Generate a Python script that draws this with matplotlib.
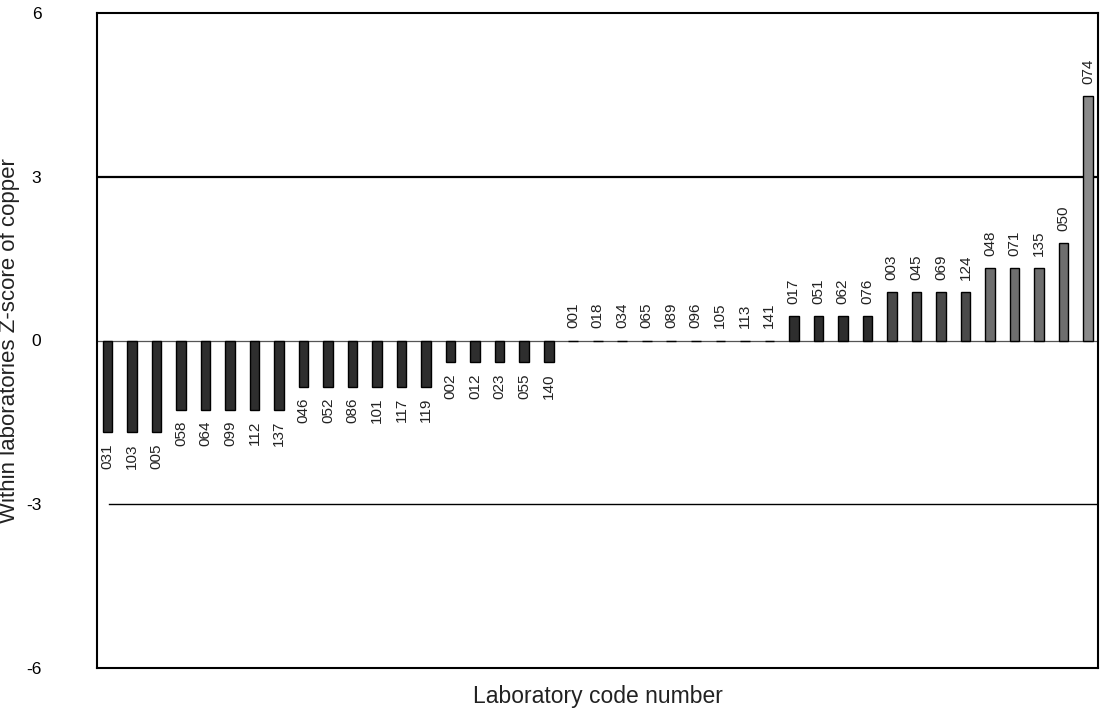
import matplotlib
matplotlib.use("Agg")
import matplotlib.pyplot as plt
import numpy as np

labs = ["031", "103", "005", "058", "064", "099", "112", "137", "046", "052",
        "086", "101", "117", "119", "002", "012", "023", "055", "140", "001",
        "018", "034", "065", "089", "096", "105", "113", "141", "017", "051",
        "062", "076", "003", "045", "069", "124", "048", "071", "135", "050",
        "074"]
zscores = [-1.68, -1.68, -1.68, -1.27, -1.27, -1.27, -1.27, -1.27, -0.85, -0.85,
           -0.85, -0.85, -0.85, -0.85, -0.40, -0.40, -0.40, -0.40, -0.40, 0.0,
           0.0, 0.0, 0.0, 0.0, 0.0, 0.0, 0.0, 0.0, 0.45, 0.45,
           0.45, 0.45, 0.88, 0.88, 0.88, 0.88, 1.32, 1.32, 1.32, 1.78,
           4.48]
yticks = [-6, -3, 0, 3, 6]

plt.rcParams['font.family'] = ['Liberation Sans', 'DejaVu Sans']

fig = plt.figure(figsize=(11.01, 7.16), dpi=100)
ax = fig.add_axes([97 / 1101, 1 - 668 / 716, (1098 - 97) / 1101, (668 - 13) / 716])

x = np.arange(len(labs))
colors = []
for v in zscores:
    if v < 0.6:
        colors.append('#2e2e2e')
    elif v < 1.0:
        colors.append('#4a4a4a')
    elif v < 2.0:
        colors.append('#6e6e6e')
    else:
        colors.append('#8a8a8a')

ax.bar(x, zscores, width=0.39, color=colors, edgecolor='black', linewidth=1.0, zorder=3)

for xi, v, lab in zip(x, zscores, labs):
    if v < 0:
        ax.text(xi, v - 0.2, lab, rotation=90, ha='center', va='top', fontsize=11, color='#222222')
    else:
        ax.text(xi, v + 0.22, lab, rotation=90, ha='center', va='bottom', fontsize=11, color='#222222')

ax.axhline(0, color='#555555', linewidth=0.9, zorder=2)
ax.axhline(3, color='black', linewidth=1.6, zorder=2)
ax.axhline(-3, xmin=0.012, color='black', linewidth=1.0, zorder=2)

ax.set_xlim(-0.43, 40.41)
ax.set_ylim(-6, 6)
ax.set_yticks(yticks)
ax.set_yticklabels([str(t) for t in yticks])
ax.tick_params(axis='y', length=0, pad=40, labelsize=12.5)
ax.set_xticks([])
for sp in ax.spines.values():
    sp.set_linewidth(1.5)
    sp.set_color('black')

ax.set_xlabel("Laboratory code number", fontsize=16.5, color='#222222', labelpad=12)
ax.set_ylabel("Within laboratories Z-score of copper", fontsize=16, color='#222222')
ax.yaxis.set_label_coords(-0.077, 0.5)

fig.savefig("out.png", dpi=100)
